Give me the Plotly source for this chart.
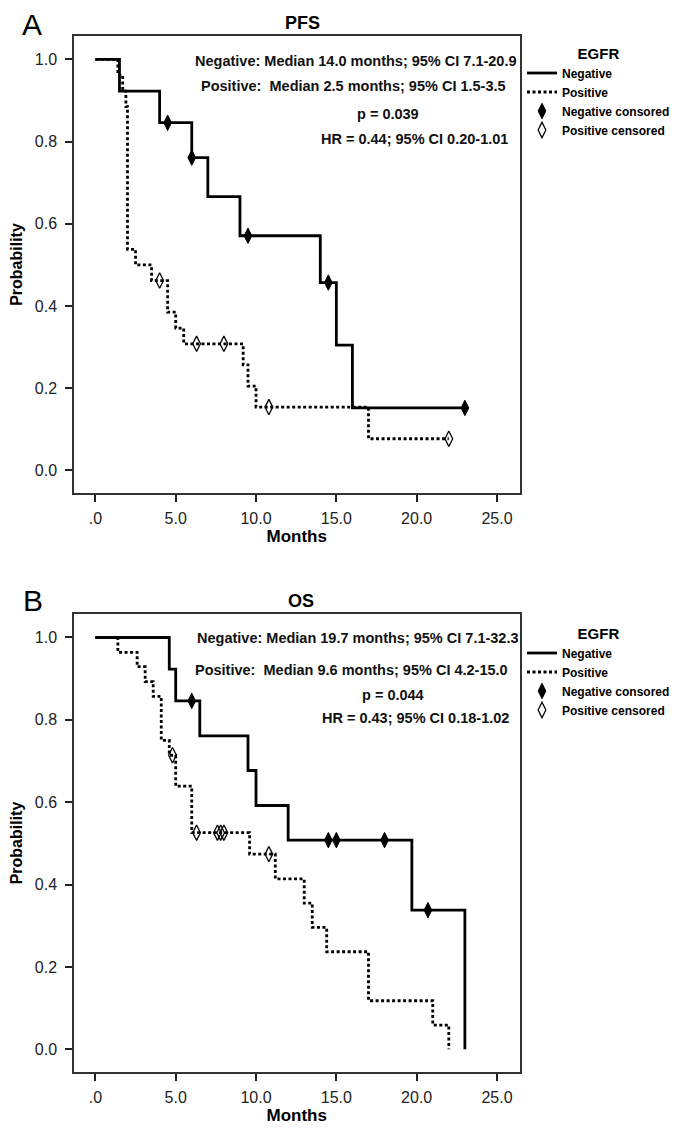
import plotly.graph_objects as go

# ---------------- data ----------------
# Panel A: PFS
pfs_neg_t = [0, 1.5, 4.0, 6.0, 7.0, 9.0, 14.0, 15.0, 16.0, 23.0]
pfs_neg_s = [1.0, 0.923, 0.846, 0.761, 0.666, 0.571, 0.457, 0.305, 0.152, 0.152]
pfs_neg_cens_t = [4.5, 6.0, 9.5, 14.5, 23.0]
pfs_neg_cens_s = [0.846, 0.761, 0.571, 0.457, 0.152]
pfs_pos_t = [0, 1.4, 1.7, 1.9, 2.0, 2.5, 3.5, 4.5, 5.0, 5.5, 9.2, 9.5, 10.0, 17.0, 22.0]
pfs_pos_s = [1.0, 0.962, 0.923, 0.885, 0.538, 0.5, 0.462, 0.385, 0.346, 0.308,
             0.257, 0.205, 0.154, 0.077, 0.077]
pfs_pos_cens_t = [4.0, 6.3, 8.0, 10.8, 22.0]
pfs_pos_cens_s = [0.462, 0.308, 0.308, 0.154, 0.077]

# Panel B: OS
os_neg_t = [0, 4.6, 5.0, 6.5, 9.5, 10.0, 12.0, 19.7, 23.0]
os_neg_s = [1.0, 0.923, 0.846, 0.761, 0.677, 0.592, 0.508, 0.338, 0.0]
os_neg_cens_t = [6.0, 14.5, 15.0, 18.0, 20.7]
os_neg_cens_s = [0.846, 0.508, 0.508, 0.508, 0.338]
os_pos_t = [0, 1.4, 2.6, 3.1, 3.6, 4.1, 4.6, 5.0, 6.0, 9.6, 11.2, 13.0, 13.5, 14.4,
            17.0, 21.0, 22.0]
os_pos_s = [1.0, 0.964, 0.929, 0.893, 0.857, 0.75, 0.714, 0.639, 0.526, 0.474,
            0.414, 0.355, 0.296, 0.237, 0.118, 0.059, 0.0]
os_pos_cens_t = [4.8, 6.3, 7.6, 7.8, 8.0, 10.8]
os_pos_cens_s = [0.714, 0.526, 0.526, 0.526, 0.526, 0.474]

x_tickvals = [0, 5, 10, 15, 20, 25]
x_ticktext = [".0", "5.0", "10.0", "15.0", "20.0", "25.0"]
y_tickvals = [0.0, 0.2, 0.4, 0.6, 0.8, 1.0]
y_ticktext = ["0.0", "0.2", "0.4", "0.6", "0.8", "1.0"]

series_names = ["Negative", "Positive", "Negative consored", "Positive censored"]

pfs_stats = ["Negative: Median 14.0 months; 95% CI 7.1-20.9",
             "Positive:\u00a0 Median 2.5 months; 95% CI 1.5-3.5",
             "p = 0.039",
             "HR = 0.44; 95% CI 0.20-1.01"]
os_stats = ["Negative: Median 19.7 months; 95% CI 7.1-32.3",
            "Positive:\u00a0 Median 9.6 months; 95% CI 4.2-15.0",
            "p = 0.044",
            "HR = 0.43; 95% CI 0.18-1.02"]

# ---------------- figure ----------------
W, H = 681, 1128
FONT = "Liberation Sans, Arial, sans-serif"
fig = go.Figure()


def add_panel(neg_t, neg_s, nct, ncs, pos_t, pos_s, pct, pcs, xa, ya, leg):
    fig.add_trace(go.Scatter(x=neg_t, y=neg_s, mode="lines", line_shape="hv",
                             line=dict(color="black", width=2.8),
                             name="<b>" + series_names[0] + "</b>",
                             xaxis=xa, yaxis=ya, legend=leg))
    fig.add_trace(go.Scatter(x=pos_t, y=pos_s, mode="lines", line_shape="hv",
                             line=dict(color="black", width=2.8, dash="3px,2.5px"),
                             name="<b>" + series_names[1] + "</b>",
                             xaxis=xa, yaxis=ya, legend=leg))
    fig.add_trace(go.Scatter(x=nct, y=ncs, mode="markers",
                             marker=dict(symbol="diamond-tall", size=11, color="black",
                                         line=dict(color="black", width=1)),
                             name="<b>" + series_names[2] + "</b>",
                             xaxis=xa, yaxis=ya, legend=leg))
    fig.add_trace(go.Scatter(x=pct, y=pcs, mode="markers",
                             marker=dict(symbol="diamond-tall-open", size=11, color="black",
                                         line=dict(color="black", width=1.3)),
                             name="<b>" + series_names[3] + "</b>",
                             xaxis=xa, yaxis=ya, legend=leg))


add_panel(pfs_neg_t, pfs_neg_s, pfs_neg_cens_t, pfs_neg_cens_s,
          pfs_pos_t, pfs_pos_s, pfs_pos_cens_t, pfs_pos_cens_s, "x", "y", "legend")
add_panel(os_neg_t, os_neg_s, os_neg_cens_t, os_neg_cens_s,
          os_pos_t, os_pos_s, os_pos_cens_t, os_pos_cens_s, "x2", "y2", "legend2")


def xaxis(domain, anchor):
    return dict(domain=domain, anchor=anchor, range=[-1.33, 26.4],
                tickvals=x_tickvals, ticktext=x_ticktext,
                ticks="outside", ticklen=7, tickwidth=1.5, tickcolor="#222",
                ticklabelstandoff=3,
                showline=True, linecolor="#333", linewidth=1.5, mirror=True,
                showgrid=False, zeroline=False,
                tickfont=dict(family=FONT, size=16, color="#222"),
                title=dict(text="<b>Months</b>", standoff=4,
                           font=dict(family=FONT, size=17, color="black")),
                automargin=False)


def yaxis(domain, anchor):
    return dict(domain=domain, anchor=anchor, range=[-0.055, 1.057],
                tickvals=y_tickvals, ticktext=y_ticktext,
                ticks="outside", ticklen=7, tickwidth=1.5, tickcolor="#222",
                ticklabelstandoff=5,
                showline=True, linecolor="#333", linewidth=1.5, mirror=True,
                showgrid=False, zeroline=False,
                tickfont=dict(family=FONT, size=16, color="#222"),
                title=dict(text="<b>Probability</b>", standoff=9,
                           font=dict(family=FONT, size=16, color="black")),
                automargin=False)


xdom = [66 / W, 511.5 / W]
fig.update_layout(
    xaxis=xaxis(xdom, "y"),
    yaxis=yaxis([1 - 485 / H, 1 - 28 / H], "x"),
    xaxis2=xaxis(xdom, "y2"),
    yaxis2=yaxis([1 - 1064 / H, 1 - 606 / H], "x2"),
)

leg_common = dict(
    xanchor="left", yanchor="top", bgcolor="rgba(0,0,0,0)",
    font=dict(family=FONT, size=12, color="black"),
    itemwidth=30, tracegroupgap=0, itemclick=False,
)
fig.update_layout(
    legend=dict(x=514 / W, y=1 - 31 / H,
                title=dict(text="<b>EGFR</b>", side="top center",
                           font=dict(family=FONT, size=15, color="black")),
                **leg_common),
    legend2=dict(x=514 / W, y=1 - 611 / H,
                 title=dict(text="<b>EGFR</b>", side="top center",
                            font=dict(family=FONT, size=15, color="black")),
                 **leg_common),
)

annotations = []
# panel letters and titles
for txt, px, py, size, bold in [("A", 24, 16, 30, False), ("B", 25, 592, 30, False),
                                ("PFS", 294, 15, 18, True), ("OS", 293, 593, 18, True)]:
    annotations.append(dict(text=("<b>%s</b>" % txt) if bold else txt,
                            x=px / W, y=1 - py / H, xref="paper", yref="paper",
                            showarrow=False, xanchor="center", yanchor="middle",
                            font=dict(family=FONT, size=size, color="black")))

# statistics text blocks
pfs_pos = [(348, 53), (345, 78), (380, 106), (406, 131)]
os_pos = [(350, 630), (343, 662), (385, 687), (407, 710)]
for texts, poss in [(pfs_stats, pfs_pos), (os_stats, os_pos)]:
    for txt, (px, py) in zip(texts, poss):
        annotations.append(dict(text="<b>%s</b>" % txt, x=px / W, y=1 - py / H,
                                xref="paper", yref="paper", showarrow=False,
                                xanchor="center", yanchor="middle",
                                font=dict(family=FONT, size=14.5, color="#111")))

fig.update_layout(
    annotations=annotations,
    width=W, height=H, autosize=False,
    margin=dict(l=0, r=0, t=0, b=0),
    paper_bgcolor="white", plot_bgcolor="white",
    showlegend=True,
)

fig.write_html("out.html")
